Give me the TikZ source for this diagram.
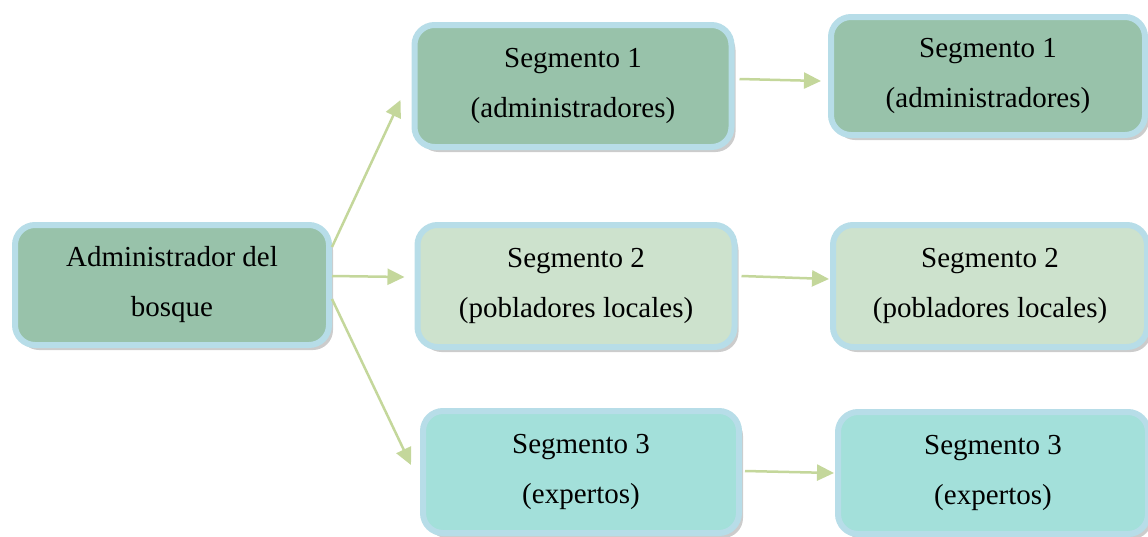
\documentclass[tikz,border=0pt]{standalone}
\usepackage{fontspec}
\setmainfont{Liberation Serif}
\usetikzlibrary{shadows}
\usetikzlibrary{arrows.meta}
\definecolor{segborder}{RGB}{183,221,232}
\definecolor{segone}{RGB}{152,194,170}
\definecolor{segtwo}{RGB}{205,226,205}
\definecolor{segthree}{RGB}{163,224,218}
\definecolor{conncol}{RGB}{196,215,155}
\tikzset{seg/.style={draw=segborder,line width=6pt,rounded corners=20pt,
   minimum width=314pt,minimum height=120pt,align=center,
   font=\fontsize{29}{50}\selectfont,
   drop shadow={shadow xshift=4pt,shadow yshift=-5pt,fill=black!40}},
 one/.style={seg,fill=segone},
 two/.style={seg,fill=segtwo},
 three/.style={seg,fill=segthree},
 conn/.style={draw=conncol,line width=2.5pt,
   -{Triangle[length=17pt,width=16pt]}},
 }

\begin{document}
\begin{tikzpicture}[x=1pt,y=-1pt]
        \useasboundingbox (0,0) rectangle (1148,536);
        % boxes
        \node[one] (adm) at (172,285) {Administrador del\\bosque};
        \node[one,minimum width=317pt,minimum height=122pt] (s1a) at (573,86) {Segmento 1\\(administradores)};
        \node[one,minimum height=118pt] (s1b) at (988,76) {Segmento 1\\(administradores)};
        \node[two,minimum width=317pt,minimum height=122pt] (s2a) at (576,286) {Segmento 2\\(pobladores locales)};
        \node[two,minimum width=314pt,minimum height=122pt] (s2b) at (990,286) {Segmento 2\\(pobladores locales)};
        \node[three,minimum width=316pt,minimum height=122pt] (s3a) at (581,472) {Segmento 3\\(expertos)};
        \node[three,minimum width=310pt,minimum height=122pt] (s3b) at (993,473) {Segmento 3\\(expertos)};
        % connectors
        \draw[conn] ([yshift=38pt]adm.east) -- ([xshift=-11pt,yshift=-14pt]s1a.west);
        \draw[conn] ([yshift=9pt]adm.east) -- ([xshift=-10pt,yshift=9pt]s2a.west);
        \draw[conn] ([yshift=-14pt]adm.east) -- ([xshift=-9pt,yshift=7pt]s3a.west);
        \draw[conn] ([xshift=5pt,yshift=7pt]s1a.east) -- ([xshift=-7pt,yshift=-5pt]s1b.west);
        \draw[conn] ([xshift=4pt,yshift=10pt]s2a.east) -- ([xshift=-1pt,yshift=7pt]s2b.west);
        \draw[conn] ([xshift=3pt,yshift=1pt]s3a.east) -- ([xshift=-1pt,yshift=0pt]s3b.west);
\end{tikzpicture}
\end{document}
